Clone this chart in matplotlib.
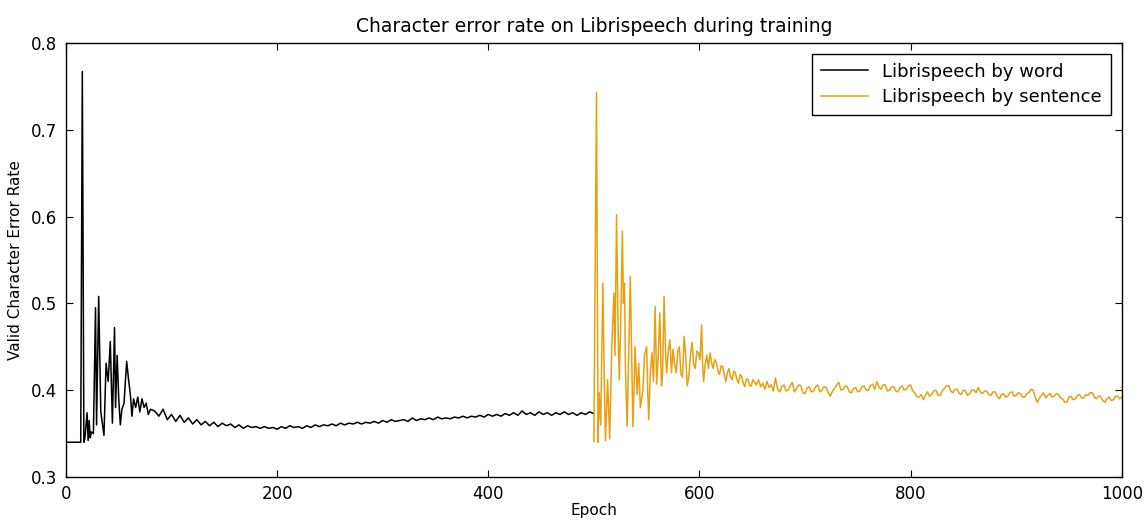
import matplotlib
matplotlib.use("Agg")
import matplotlib.pyplot as plt

# Librispeech by word (epochs 0-500)
word_epochs = [0, 14, 15.5, 17, 18, 20, 21, 22, 23, 24, 26, 28, 29, 31, 33, 36, 38, 40,
               42, 44, 46, 47, 48.5, 50, 51.5, 53, 55, 57.5, 59.5, 61, 62.5, 64, 66, 68,
               70, 72, 74, 76, 78, 80] + list(range(84, 501, 4))
word_cer = [0.340, 0.340, 0.767, 0.340, 0.345, 0.374, 0.342, 0.365, 0.345, 0.352, 0.350,
            0.495, 0.360, 0.508, 0.375, 0.348, 0.431, 0.410, 0.456, 0.362, 0.472, 0.380,
            0.440, 0.390, 0.360, 0.378, 0.385, 0.433, 0.410, 0.395, 0.370, 0.390, 0.380,
            0.392, 0.375, 0.390, 0.380, 0.385, 0.372, 0.378,
            0.376, 0.370, 0.378, 0.366, 0.372, 0.364, 0.371, 0.363, 0.368, 0.361,
            0.366, 0.360, 0.364, 0.359, 0.363, 0.358, 0.362, 0.359, 0.361, 0.357,
            0.360, 0.356, 0.359, 0.357, 0.358, 0.356, 0.358, 0.356, 0.357, 0.355,
            0.358, 0.356, 0.359, 0.357, 0.358, 0.356, 0.359, 0.357, 0.360, 0.358,
            0.360, 0.359, 0.361, 0.359, 0.362, 0.360, 0.362, 0.361, 0.363, 0.361,
            0.363, 0.362, 0.364, 0.362, 0.365, 0.363, 0.366, 0.364, 0.365, 0.366,
            0.364, 0.368, 0.365, 0.367, 0.366, 0.368, 0.366, 0.369, 0.367, 0.368,
            0.367, 0.369, 0.368, 0.370, 0.368, 0.370, 0.369, 0.371, 0.369, 0.372,
            0.370, 0.372, 0.370, 0.373, 0.371, 0.374, 0.371, 0.376, 0.372, 0.374,
            0.371, 0.375, 0.372, 0.374, 0.371, 0.374, 0.372, 0.375, 0.372, 0.374,
            0.371, 0.374, 0.372, 0.375, 0.373]

# Librispeech by sentence (epochs 500-1000)
sent_epochs = [500, 502.5, 504, 505, 506.5, 508.5, 510, 511, 513, 515, 517, 519, 520,
               521.5, 523, 524, 525.5, 527, 528, 529, 530, 531.5, 533, 534.5, 536, 537,
               538, 539, 541, 542.5, 544, 546.5, 548, 550, 551, 552, 553.5, 555, 556.5,
               558, 559.5, 561, 562.5, 564, 565, 566.5, 568, 569, 570.5, 572, 573.5,
               575, 576.5, 578, 579.5, 581, 582.5, 584, 585.5, 587, 588.5, 590, 591.5,
               593, 594.5, 596, 597.5, 599, 600.5, 602, 603, 604, 605.5, 607, 608.5,
               610, 611.5, 613, 614.5, 616, 617.5, 619, 620.5, 622, 623.5, 625, 626.5,
               628, 629.5, 631, 632.5, 634, 635.5, 637, 638.5, 640, 641.5, 643, 644.5,
               646, 647.5, 649, 650.5, 652, 654] + list(range(656, 1001, 2))
sent_cer = [0.341, 0.743, 0.340, 0.397, 0.360, 0.523, 0.400, 0.342, 0.412, 0.344,
            0.450, 0.512, 0.440, 0.602, 0.470, 0.412, 0.480, 0.583, 0.500, 0.523,
            0.420, 0.358, 0.440, 0.531, 0.430, 0.358, 0.400, 0.450, 0.395, 0.431,
            0.380, 0.400, 0.440, 0.450, 0.400, 0.366, 0.420, 0.443, 0.410, 0.496,
            0.407, 0.440, 0.489, 0.405, 0.415, 0.508, 0.440, 0.420, 0.445, 0.458,
            0.420, 0.447, 0.430, 0.420, 0.445, 0.450, 0.418, 0.415, 0.462, 0.440,
            0.405, 0.416, 0.440, 0.455, 0.430, 0.425, 0.445, 0.443, 0.435, 0.475,
            0.430, 0.410, 0.430, 0.440, 0.425, 0.443, 0.432, 0.425, 0.435, 0.432,
            0.422, 0.418, 0.428, 0.427, 0.418, 0.410, 0.420, 0.425, 0.415, 0.412,
            0.422, 0.420, 0.412, 0.408, 0.418, 0.416, 0.408, 0.404, 0.413, 0.412,
            0.405, 0.405, 0.412, 0.410, 0.406,
            0.412, 0.404, 0.408, 0.401, 0.410, 0.403, 0.406, 0.399, 0.414, 0.401,
            0.398, 0.404, 0.406, 0.399, 0.400, 0.405, 0.409, 0.398, 0.402, 0.406,
            0.405, 0.397, 0.396, 0.402, 0.404, 0.398, 0.399, 0.404, 0.406, 0.398,
            0.400, 0.404, 0.403, 0.397, 0.393, 0.399, 0.402, 0.406, 0.409, 0.400,
            0.401, 0.405, 0.404, 0.398, 0.397, 0.402, 0.403, 0.398, 0.399, 0.404,
            0.405, 0.400, 0.400, 0.405, 0.407, 0.401, 0.410, 0.404, 0.401, 0.406,
            0.406, 0.399, 0.400, 0.404, 0.404, 0.399, 0.398, 0.403, 0.405, 0.400,
            0.401, 0.405, 0.406, 0.399, 0.397, 0.392, 0.392, 0.395, 0.389, 0.394,
            0.398, 0.393, 0.395, 0.399, 0.400, 0.394, 0.394, 0.399, 0.402, 0.405,
            0.405, 0.399, 0.397, 0.401, 0.401, 0.396, 0.395, 0.400, 0.399, 0.394,
            0.396, 0.400, 0.400, 0.397, 0.403, 0.398, 0.396, 0.399, 0.399, 0.395,
            0.394, 0.398, 0.398, 0.393, 0.390, 0.395, 0.396, 0.392, 0.393, 0.397,
            0.398, 0.393, 0.394, 0.397, 0.396, 0.392, 0.392, 0.396, 0.397, 0.401,
            0.400, 0.392, 0.386, 0.391, 0.394, 0.397, 0.391, 0.394, 0.396, 0.392,
            0.393, 0.396, 0.395, 0.391, 0.390, 0.386, 0.386, 0.392, 0.393, 0.389,
            0.390, 0.394, 0.395, 0.391, 0.391, 0.395, 0.394, 0.397, 0.397, 0.392,
            0.390, 0.393, 0.393, 0.388, 0.386, 0.390, 0.392, 0.388, 0.389, 0.393,
            0.393, 0.390, 0.392]

WORD_COLOR = "black"
SENT_COLOR = "#e8a010"

fig = plt.figure(figsize=(11.47, 5.23), dpi=100)
ax = fig.add_axes([0.0575, 0.088, 0.9205, 0.830])

ax.plot(word_epochs, word_cer, color=WORD_COLOR, linewidth=1.1, label="Librispeech by word")
ax.plot(sent_epochs, sent_cer, color=SENT_COLOR, linewidth=1.1, label="Librispeech by sentence")

ax.set_xlim(0, 1000)
ax.set_ylim(0.3, 0.8)
ax.set_xticks([0, 200, 400, 600, 800, 1000])
ax.set_yticks([0.3, 0.4, 0.5, 0.6, 0.7, 0.8])
ax.tick_params(direction="in", top=True, right=True, labelsize=12, length=5, pad=6)
for s in ax.spines.values():
    s.set_linewidth(1.0)

ax.set_title("Character error rate on Librispeech during training", fontsize=13.5, pad=8)
ax.set_xlabel("Epoch", fontsize=11, labelpad=0)
ax.set_ylabel("Valid Character Error Rate", fontsize=11, labelpad=6)

leg = ax.legend(loc="upper right", fontsize=13, fancybox=False, framealpha=1,
                edgecolor="black", handlelength=2.6, borderpad=0.5, labelspacing=0.4,
                borderaxespad=0.6)
leg.get_frame().set_linewidth(1.0)

fig.savefig("out.png", dpi=100)
